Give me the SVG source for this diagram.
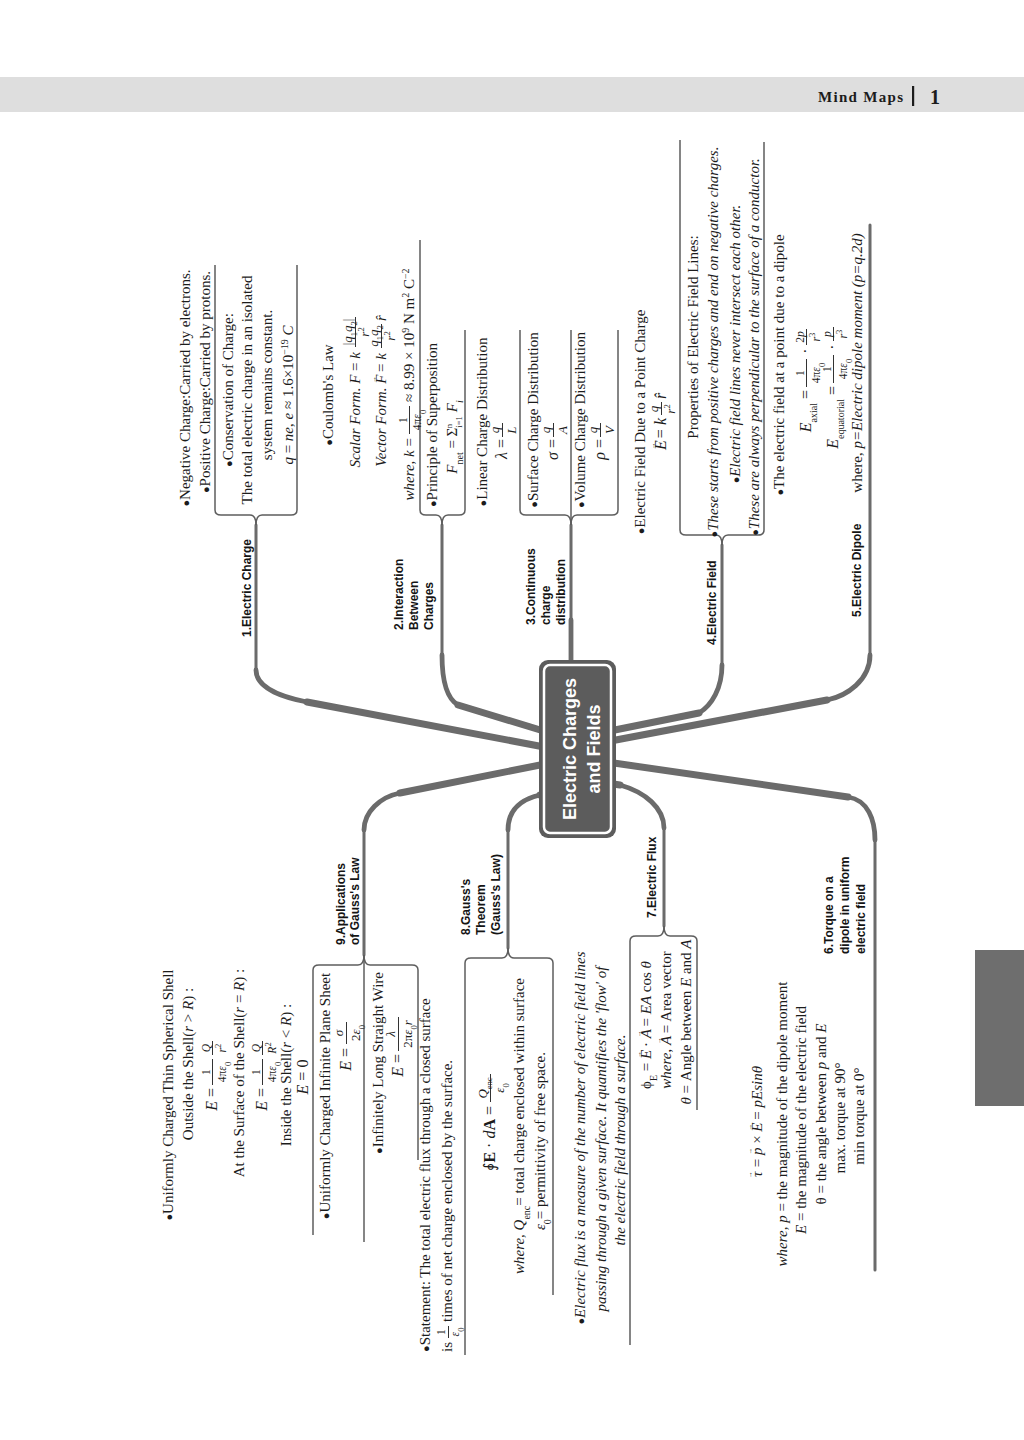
<svg xmlns="http://www.w3.org/2000/svg" width="1024" height="1440" viewBox="0 0 1024 1440">
<style>
.t{font-family:"Liberation Serif","Times New Roman","DejaVu Serif",serif;font-size:15px;fill:#1c1c1c}
.c{text-anchor:middle}
.e{text-anchor:end}
.i{font-style:italic}
.bd{font-weight:bold}
.m{font-size:16px}
.f{font-size:13px;text-anchor:middle}
.fs{font-size:11.5px;text-anchor:middle}
.sb{font-size:10px}
.ss{font-size:8.5px}
.bu{font-size:11px}
.av{font-size:7px;font-style:normal}
.lb{font-family:"Liberation Sans",Arial,sans-serif;font-weight:bold;font-size:12px;fill:#141414}
.cn{font-family:"Liberation Sans",Arial,sans-serif;font-weight:bold;font-size:18px;fill:#fff;text-anchor:middle}
.br{fill:none;stroke:#6b6b6b;stroke-linecap:round;stroke-linejoin:round}
.w1{stroke-width:3}
.w2{stroke-width:4.8}
.w3{stroke-width:7}
.ar{fill:none;stroke:#5e5e5e;stroke-width:1.5;stroke-linejoin:round}
.fb{stroke:#1c1c1c;stroke-width:0.9}
</style>
<rect width="1024" height="1440" fill="#fff"/>
<g id="header">
<rect x="0" y="77" width="1024" height="35" fill="#dedede"/>
<text x="818" y="102" font-family="Liberation Serif" font-weight="bold" font-size="15" letter-spacing="1.3" fill="#1c1c1c">Mind Maps</text>
<rect x="912" y="86" width="2.2" height="20" fill="#1c1c1c"/>
<text x="930" y="104" font-family="Liberation Serif" font-weight="bold" font-size="20" fill="#1c1c1c">1</text>
</g>
<rect id="tab" x="975" y="950" width="49" height="156" fill="#6e6e6e"/>
<g transform="matrix(0 -1 1 0 0 1440)">
<g id="connectors">
<path class="br w1" d="M915 256H770"/>
<path class="br w2" d="M770 256C750 256 742 287 738 307"/>
<path class="br w3" d="M738 307L690 560"/>
<path class="br w1" d="M915 442H785"/>
<path class="br w2" d="M785 442C760 442 742 446 735 458"/>
<path class="br w3" d="M735 458L704 560"/>
<path class="br w1" d="M915 571H820"/>
<path class="br w2" d="M820 571H775"/>
<path class="br w1" d="M895 722H775"/>
<path class="br w2" d="M775 722C752 722 735 712 727 699"/>
<path class="br w3" d="M727 699L705 590"/>
<path class="br w1" d="M1215 870H785"/>
<path class="br w2" d="M785 870C760 870 744 847 740 827"/>
<path class="br w3" d="M740 827L697 600"/>
<path class="br w1" d="M170 875H600"/>
<path class="br w2" d="M600 875C620 875 640 868 643 848"/>
<path class="br w3" d="M643 848L679 600"/>
<path class="br w1" d="M514 664H612"/>
<path class="br w2" d="M612 664C632 664 648 645 655 620"/>
<path class="br w3" d="M655 620L658 600"/>
<path class="br w1" d="M492 508H610"/>
<path class="br w2" d="M610 508C628 508 640 518 645 540"/>
<path class="br w3" d="M645 540L648 560"/>
<path class="br w1" d="M485 364H610"/>
<path class="br w2" d="M610 364C628 364 643 380 647 400"/>
<path class="br w3" d="M647 400L679 560"/>
<path class="ar" d="M1175 215H930Q925 215 925 221V250Q925 256 915 256"/>
<path class="ar" d="M1175 297H930Q925 297 925 291V262Q925 256 915 256"/>
<path class="ar" d="M1200 420H930Q925 420 925 426V436Q925 442 915 442"/>
<path class="ar" d="M1110 465H930Q925 465 925 459V448Q925 442 915 442"/>
<path class="ar" d="M1110 520H930Q925 520 925 526V565Q925 571 915 571"/>
<path class="ar" d="M1110 571H915"/>
<path class="ar" d="M1110 618H930Q925 618 925 612V577Q925 571 915 571"/>
<path class="ar" d="M1300 680H910Q905 680 905 686V716Q905 722 895 722"/>
<path class="ar" d="M1298 764H910Q905 764 905 758V728Q905 722 895 722"/>
<path class="ar" d="M205 313H470Q475 313 475 319V358Q475 364 485 364"/>
<path class="ar" d="M198 364H485"/>
<path class="ar" d="M280 418H470Q475 418 475 412V370Q475 364 485 364"/>
<path class="ar" d="M85 465H477Q482 465 482 471V502Q482 508 492 508"/>
<path class="ar" d="M145 553H477Q482 553 482 547V514Q482 508 492 508"/>
<path class="ar" d="M95 630H499Q504 630 504 636V658Q504 664 514 664"/>
<path class="ar" d="M330 697H499Q504 697 504 691V670Q504 664 514 664"/>
</g>
<g id="center">
<rect x="602" y="539" width="178" height="77" rx="9" fill="#5c5c5c"/>
<rect x="607" y="544" width="168" height="67" rx="6" fill="#5c5c5c" stroke="#fff" stroke-width="2.5"/>
<text class="cn" x="691" y="576">Electric Charges</text>
<text class="cn" x="691" y="600">and Fields</text>
</g>
<g id="n1">
<text class="lb" x="803" y="251">1.Electric Charge</text>
<text class="t c" x="1052" y="190"><tspan class="bu">●</tspan>Negative Charge:Carried by electrons.</text>
<text class="t c" x="1058" y="210"><tspan class="bu">●</tspan>Positive Charge:Carried by protons.</text>
<text class="t c" x="1050" y="233"><tspan class="bu">●</tspan>Conservation of Charge:</text>
<text class="t c" x="1050" y="252">The total electric charge in an isolated</text>
<text class="t c" x="1055" y="272">system remains constant.</text>
<text class="t c" x="1045" y="293"><tspan class="i">q</tspan> = <tspan class="i">ne</tspan>, <tspan class="i">e</tspan> ≈ 1.6×10<tspan class="sb" baseline-shift="super">−19</tspan> <tspan class="i">C</tspan></text>
</g>
<g id="n2">
<text class="lb" x="810" y="403">2.Interaction</text>
<text class="lb" x="810" y="418">Between</text>
<text class="lb" x="810" y="433">Charges</text>
<text class="t c" x="1045" y="333"><tspan class="bu">●</tspan>Coulomb's Law</text>
<text class="t e" x="1088" y="360"><tspan class="i">Scalar Form. F</tspan> = <tspan class="i">k</tspan></text>
<text class="t f" x="1108" y="351.5">|<tspan class="i">q</tspan><tspan class="ss" baseline-shift="sub">1</tspan><tspan class="i">q</tspan><tspan class="ss" baseline-shift="sub">2</tspan>|</text>
<path class="fb" d="M1093 355.5H1123"/>
<text class="t f" x="1108" y="369"><tspan class="i">r</tspan><tspan class="ss" baseline-shift="super">2</tspan></text>
<text class="t e" x="1087" y="386"><tspan class="i">Vector Form. F</tspan><tspan class="av" dx="-8" dy="-10">→</tspan><tspan dy="10"> = </tspan><tspan class="i">k</tspan></text>
<text class="t f" x="1104" y="377.5"><tspan class="i">q</tspan><tspan class="ss" baseline-shift="sub">1</tspan><tspan class="i">q</tspan><tspan class="ss" baseline-shift="sub">2</tspan></text>
<path class="fb" d="M1092 381.5H1116"/>
<text class="t f" x="1104" y="395"><tspan class="i">r</tspan><tspan class="ss" baseline-shift="super">2</tspan></text>
<text class="t i" x="1119" y="386">r̂</text>
<text class="t e" x="1002" y="414"><tspan class="i">where, k</tspan> =</text>
<text class="t fs" x="1020" y="406.5">1</text>
<path class="fb" d="M1006 409.5H1034"/>
<text class="t fs" x="1020" y="421">4π<tspan class="i">ε</tspan><tspan class="ss" baseline-shift="sub">0</tspan></text>
<text class="t" x="1038" y="414">≈ 8.99 × 10<tspan class="sb" baseline-shift="super">9</tspan> N m<tspan class="sb" baseline-shift="super">2</tspan> C<tspan class="sb" baseline-shift="super">−2</tspan></text>
<text class="t c" x="1015" y="437"><tspan class="bu">●</tspan>Principle of Superposition</text>
<text class="t c" x="1003" y="457"><tspan class="i">F</tspan><tspan class="sb" baseline-shift="sub">net</tspan> = Σ<tspan class="ss" baseline-shift="sub">i=1</tspan><tspan class="ss" baseline-shift="super" dx="-12">n</tspan><tspan dx="8"> </tspan><tspan class="i">F</tspan><tspan class="sb i" baseline-shift="sub">i</tspan></text>
</g>
<g id="n3">
<text class="lb" x="815" y="535">3.Continuous</text>
<text class="lb" x="815" y="550">charge</text>
<text class="lb" x="815" y="565">distribution</text>
<text class="t c" x="1018" y="487"><tspan class="bu">●</tspan>Linear Charge Distribution</text>
<text class="t m e" x="1001" y="507"><tspan class="i">λ</tspan> =</text>
<text class="t f i" x="1010" y="498.5">q</text>
<path class="fb" d="M1003 502.5H1017"/>
<text class="t f i" x="1010" y="515.5">L</text>
<text class="t c" x="1020" y="538"><tspan class="bu">●</tspan>Surface Charge Distribution</text>
<text class="t m e" x="1001" y="558"><tspan class="i">σ</tspan> =</text>
<text class="t f i" x="1010" y="549.5">q</text>
<path class="fb" d="M1003 553.5H1017"/>
<text class="t f i" x="1010" y="566.5">A</text>
<text class="t c" x="1020" y="585"><tspan class="bu">●</tspan>Volume Charge Distribution</text>
<text class="t m e" x="1001" y="605"><tspan class="i">ρ</tspan> =</text>
<text class="t f i" x="1010" y="596.5">q</text>
<path class="fb" d="M1003 600.5H1017"/>
<text class="t f i" x="1010" y="613.5">V</text>
</g>
<g id="n4">
<text class="lb" x="795" y="716">4.Electric Field</text>
<text class="t c" x="1018" y="645"><tspan class="bu">●</tspan>Electric Field Due to a Point Charge</text>
<text class="t m e" x="1022" y="666"><tspan class="i">E</tspan><tspan class="av" dx="-9" dy="-11">→</tspan><tspan dy="11"> = </tspan><tspan class="i">k</tspan></text>
<text class="t f i" x="1031" y="657.5">q</text>
<path class="fb" d="M1025 661.5H1038"/>
<text class="t f" x="1031" y="675"><tspan class="i">r</tspan><tspan class="ss" baseline-shift="super">2</tspan></text>
<text class="t m i" x="1041" y="666">r̂</text>
<text class="t c" x="1103" y="698">Properties of Electric Field Lines:</text>
<text class="t c i" x="1098" y="718"><tspan class="bu">●</tspan>These starts from positive charges and end on negative charges.</text>
<text class="t c i" x="1096" y="740"><tspan class="bu">●</tspan>Electric field lines never intersect each other.</text>
<text class="t c i" x="1093" y="759"><tspan class="bu">●</tspan>These are always perpendicular to the surface of a conductor.</text>
</g>
<g id="n5">
<text class="lb" x="823" y="861">5.Electric Dipole</text>
<text class="t c" x="1075" y="784"><tspan class="bu">●</tspan>The electric field at a point due to a dipole</text>
<text class="t m e" x="1050" y="811"><tspan class="i">E</tspan><tspan class="sb" baseline-shift="sub">axial</tspan> =</text>
<text class="t fs" x="1067" y="803.5">1</text>
<path class="fb" d="M1053 806.5H1081"/>
<text class="t fs" x="1067" y="819.5">4π<tspan class="i">ε</tspan><tspan class="ss" baseline-shift="sub">0</tspan></text>
<text class="t m c" x="1089" y="811">·</text>
<text class="t fs" x="1103" y="803.5">2<tspan class="i">p</tspan></text>
<path class="fb" d="M1095 806.5H1111"/>
<text class="t fs" x="1103" y="819.5"><tspan class="i">r</tspan><tspan class="ss" baseline-shift="super">3</tspan></text>
<text class="t m e" x="1054" y="838"><tspan class="i">E</tspan><tspan class="sb" baseline-shift="sub">equatorial</tspan> =</text>
<text class="t fs" x="1071" y="830.5">1</text>
<path class="fb" d="M1057 833.5H1085"/>
<text class="t fs" x="1071" y="846.5">4π<tspan class="i">ε</tspan><tspan class="ss" baseline-shift="sub">0</tspan></text>
<text class="t m c" x="1093" y="838">·</text>
<text class="t fs i" x="1106" y="830.5">p</text>
<path class="fb" d="M1099 833.5H1113"/>
<text class="t fs" x="1106" y="846.5"><tspan class="i">r</tspan><tspan class="ss" baseline-shift="super">3</tspan></text>
<text class="t c" x="1077" y="862">where, <tspan class="i">p=Electric dipole moment (p=q.2d)</tspan></text>
</g>
<g id="n6">
<text class="lb" x="486" y="833">6.Torque on a</text>
<text class="lb" x="486" y="849">dipole in uniform</text>
<text class="lb" x="486" y="865">electric field</text>
<text class="t c" x="318" y="762"><tspan class="i">τ</tspan><tspan class="av" dx="-6.5" dy="-10">→</tspan><tspan dy="10"> = </tspan><tspan class="i">p</tspan><tspan class="av" dx="-7" dy="-10">→</tspan><tspan dy="10"> × </tspan><tspan class="i">E</tspan><tspan class="av" dx="-8" dy="-10">→</tspan><tspan dy="10"> = </tspan><tspan class="i">pEsinθ</tspan></text>
<text class="t c" x="316" y="787"><tspan class="i">where, p</tspan> = the magnitude of the dipole moment</text>
<text class="t c" x="320" y="806"><tspan class="i">E</tspan> = the magnitude of the electric field</text>
<text class="t c" x="326" y="826">θ = the angle between <tspan class="i">p</tspan> and <tspan class="i">E</tspan></text>
<text class="t c" x="322" y="845">max. torque at 90°</text>
<text class="t c" x="324" y="864">min torque at 0°</text>
</g>
<g id="n7">
<text class="lb" x="522" y="656">7.Electric Flux</text>
<text class="t c i" x="302" y="585"><tspan class="bu">●</tspan>Electric flux is a measure of the number of electric field lines</text>
<text class="t c i" x="301" y="606">passing through a given surface. It quantifies the 'flow' of</text>
<text class="t c i" x="300" y="625">the electric field through a surface.</text>
<text class="t c" x="415" y="651">ϕ<tspan class="sb" baseline-shift="sub">E</tspan> = <tspan class="i">E</tspan><tspan class="av" dx="-8" dy="-10">→</tspan><tspan dy="10"> · </tspan><tspan class="i">A</tspan><tspan class="av" dx="-8" dy="-10">→</tspan><tspan dy="10"> = </tspan><tspan class="i">EA</tspan> cos <tspan class="i">θ</tspan></text>
<text class="t c" x="420" y="671"><tspan class="i">where</tspan>, <tspan class="i">A</tspan><tspan class="av" dx="-8" dy="-10">→</tspan><tspan dy="10"> = Area vector</tspan></text>
<text class="t c" x="418" y="691"><tspan class="i">θ</tspan> = Angle between <tspan class="i">E</tspan> and <tspan class="i">A</tspan></text>
</g>
<g id="n8">
<text class="lb" x="505" y="470">8.Gauss's</text>
<text class="lb" x="505" y="485">Theorem</text>
<text class="lb" x="505" y="500">(Gauss's Law)</text>
<text class="t" x="88" y="430"><tspan class="bu">●</tspan>Statement: The total electric flux through a closed surface</text>
<text class="t" x="88" y="452">is</text>
<text class="t fs" x="108" y="445">1</text>
<path class="fb" d="M102 448.5H114"/>
<text class="t fs" x="108" y="459"><tspan class="i">ε</tspan><tspan class="ss" baseline-shift="sub">0</tspan></text>
<text class="t" x="118" y="452">times of net charge enclosed by the surface.</text>
<text class="t m e" x="334" y="495">∮<tspan class="bd">E</tspan> · <tspan class="i">d</tspan><tspan class="bd">A</tspan> =</text>
<text class="t f" x="352" y="486.5"><tspan class="i">Q</tspan><tspan class="ss" baseline-shift="sub">enc</tspan></text>
<path class="fb" d="M338 490.5H366"/>
<text class="t f" x="352" y="504"><tspan class="i">ε</tspan><tspan class="ss" baseline-shift="sub">0</tspan></text>
<text class="t c" x="314" y="524"><tspan class="i">where, Q</tspan><tspan class="sb" baseline-shift="sub">enc</tspan>= total charge enclosed within surface</text>
<text class="t c" x="299" y="545"><tspan class="i">ε</tspan><tspan class="sb" baseline-shift="sub">0</tspan>= permittivity of free space.</text>
</g>
<g id="n9">
<text class="lb" x="495" y="345">9.Applications</text>
<text class="lb" x="495" y="359">of Gauss's Law</text>
<text class="t c" x="345" y="173"><tspan class="bu">●</tspan>Uniformly Charged Thin Spherical Shell</text>
<text class="t c" x="376" y="193">Outside the Shell(<tspan class="i">r</tspan> &gt; <tspan class="i">R</tspan>) :</text>
<text class="t m e" x="352" y="217"><tspan class="i">E</tspan> =</text>
<text class="t fs" x="368" y="209.5">1</text>
<path class="fb" d="M355 212.5H381"/>
<text class="t fs" x="368" y="225.5">4π<tspan class="i">ε</tspan><tspan class="ss" baseline-shift="sub">0</tspan></text>
<text class="t fs i" x="392" y="209.5">Q</text>
<path class="fb" d="M385 212.5H399"/>
<text class="t fs" x="392" y="225.5"><tspan class="i">r</tspan><tspan class="ss" baseline-shift="super">2</tspan></text>
<text class="t c" x="367" y="244">At the Surface of the Shell(<tspan class="i">r</tspan> = <tspan class="i">R</tspan>) :</text>
<text class="t m e" x="352" y="267"><tspan class="i">E</tspan> =</text>
<text class="t fs" x="368" y="259.5">1</text>
<path class="fb" d="M355 262.5H381"/>
<text class="t fs" x="368" y="275.5">4π<tspan class="i">ε</tspan><tspan class="ss" baseline-shift="sub">0</tspan></text>
<text class="t fs i" x="392" y="259.5">Q</text>
<path class="fb" d="M385 262.5H399"/>
<text class="t fs" x="392" y="275.5"><tspan class="i">R</tspan><tspan class="ss" baseline-shift="super">2</tspan></text>
<text class="t c" x="365" y="291">Inside the Shell(<tspan class="i">r</tspan> &lt; <tspan class="i">R</tspan>) :</text>
<text class="t m c" x="363" y="308"><tspan class="i">E</tspan> = 0</text>
<text class="t c" x="344" y="330"><tspan class="bu">●</tspan>Uniformly Charged Infinite Plane Sheet</text>
<text class="t m e" x="392" y="351"><tspan class="i">E</tspan> =</text>
<text class="t f i" x="407" y="342.5">σ</text>
<path class="fb" d="M396 346.5H418"/>
<text class="t f" x="407" y="360">2<tspan class="i">ε</tspan><tspan class="ss" baseline-shift="sub">0</tspan></text>
<text class="t c" x="377" y="383"><tspan class="bu">●</tspan>Infinitely Long Straight Wire</text>
<text class="t m e" x="386" y="403"><tspan class="i">E</tspan> =</text>
<text class="t f i" x="406" y="394.5">λ</text>
<path class="fb" d="M389 398.5H423"/>
<text class="t f" x="406" y="412">2π<tspan class="i">ε</tspan><tspan class="ss" baseline-shift="sub">0</tspan><tspan class="i">r</tspan></text>
</g>
</g>
</svg>
